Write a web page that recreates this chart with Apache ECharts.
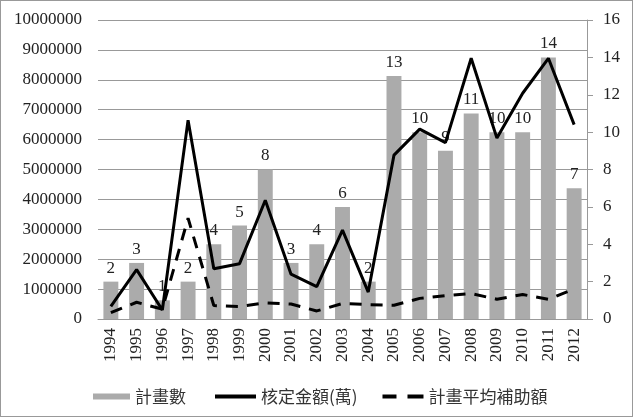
<!DOCTYPE html>
<html>
<head>
<meta charset="utf-8">
<script src="https://cdn.jsdelivr.net/npm/echarts@6/dist/echarts.min.js"></script>
<style>
  html, body { margin: 0; padding: 0; background: #fff; }
  #chart { width: 631px; height: 415px; border: 1px solid #999; }
</style>
</head>
<body>
<div id="chart"></div>
<script>
// 年度
const years = ["1994", "1995", "1996", "1997", "1998", "1999", "2000", "2001", "2002", "2003",
  "2004", "2005", "2006", "2007", "2008", "2009", "2010", "2011", "2012"];
// 計畫數 (右軸)
const projectCount = [2, 3, 1, 2, 4, 5, 8, 3, 4, 6, 2, 13, 10, 9, 11, 10, 10, 14, 7];
// 核定金額(萬) (左軸)
const approvedAmount = [420000, 1650000, 300000, 6650000, 1680000, 1850000, 3970000, 1500000, 1080000, 2970000,
  900000, 5480000, 6350000, 5900000, 8720000, 6050000, 7550000, 8720000, 6500000];
// 計畫平均補助額 (左軸)
const avgSubsidy = [210000, 560000, 330000, 3370000, 450000, 420000, 540000, 500000, 270000, 520000,
  480000, 460000, 690000, 780000, 850000, 660000, 820000, 660000, 1000000];

const serif = "Liberation Serif";
const legendText = { fontFamily: "Noto Sans CJK TC", fontSize: 17, color: "#333" };
const chart = echarts.init(document.getElementById("chart"));
chart.setOption({
  animation: false,
  grid: { left: 97, right: 45, top: 19, bottom: 97 },
  legend: [
    {
      left: 87,
      top: 382,
      itemWidth: 37,
      itemHeight: 6,
      selectedMode: false,
      textStyle: legendText,
      data: [{ name: "計畫數", icon: "rect" }],
    },
    {
      left: 209,
      top: 382,
      itemWidth: 41,
      itemHeight: 4,
      itemGap: 25,
      selectedMode: false,
      textStyle: legendText,
      data: [
        { name: "核定金額(萬)", icon: "rect" },
        { name: "計畫平均補助額", icon: "path://M0,0 L14,0 L14,4 L0,4 Z M25,0 L41,0 L41,4 L25,4 Z" },
      ],
    },
  ],
  xAxis: {
    type: "category",
    data: years,
    axisLine: { lineStyle: { color: "#999" } },
    axisTick: { show: false },
    axisLabel: {
      interval: 0,
      rotate: 90,
      margin: 9,
      fontFamily: serif,
      fontSize: 17,
      color: "#222",
    },
  },
  yAxis: [
    {
      type: "value",
      min: 0,
      max: 10000000,
      interval: 1000000,
      axisLine: { show: false },
      axisTick: { show: false },
      axisLabel: {
        fontFamily: serif,
        fontSize: 17,
        color: "#222",
        margin: 16,
        formatter: function (v) { return String(v); },
      },
      splitLine: { lineStyle: { color: "#999" } },
    },
    {
      type: "value",
      min: 0,
      max: 16,
      interval: 2,
      position: "right",
      axisLine: { show: true, lineStyle: { color: "#999" } },
      axisTick: { show: true, length: 6, lineStyle: { color: "#999" } },
      axisLabel: { fontFamily: serif, fontSize: 17, color: "#222", margin: 16 },
      splitLine: { show: false },
    },
  ],
  series: [
    {
      name: "計畫數",
      type: "bar",
      yAxisIndex: 1,
      data: projectCount,
      barWidth: "58%",
      itemStyle: { color: "#ababab" },
      label: {
        show: true,
        position: "top",
        distance: 5,
        fontFamily: serif,
        fontSize: 17,
        color: "#222",
      },
      z: 1,
    },
    {
      name: "核定金額(萬)",
      type: "line",
      yAxisIndex: 0,
      data: approvedAmount,
      symbol: "none",
      lineStyle: { color: "#000", width: 3 },
      itemStyle: { color: "#000" },
      z: 3,
    },
    {
      name: "計畫平均補助額",
      type: "line",
      yAxisIndex: 0,
      data: avgSubsidy,
      symbol: "none",
      lineStyle: { color: "#000", width: 3, type: [12, 9] },
      itemStyle: { color: "#000" },
      z: 3,
    },
  ],
});
window.addEventListener("resize", function () {
  chart.resize();
});
</script>
</body>
</html>
